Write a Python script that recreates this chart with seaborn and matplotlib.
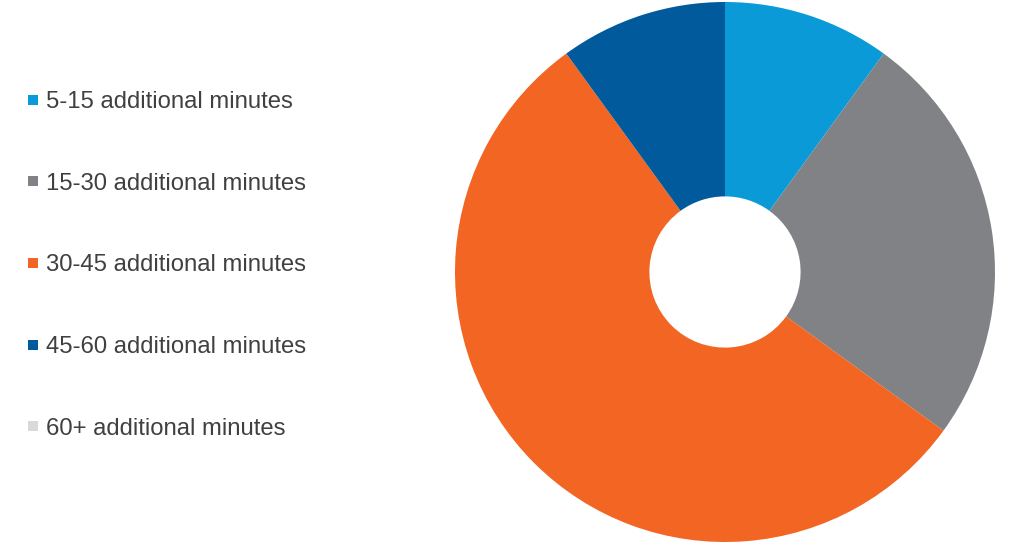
import matplotlib
matplotlib.use("Agg")
import matplotlib.pyplot as plt
from matplotlib.lines import Line2D
import seaborn as sns

categories = ["5-15 additional minutes", "15-30 additional minutes",
              "30-45 additional minutes", "45-60 additional minutes",
              "60+ additional minutes"]
shares = [10, 25, 55, 10, 0]
colors = ["#0b9ad8", "#808285", "#f26522", "#005a9c", "#d9d9d9"]

sns.set_theme(style="white")
plt.rcParams["font.family"] = ["Liberation Sans", "DejaVu Sans"]

fig = plt.figure(figsize=(10.24, 5.45), dpi=100)
ax = fig.add_axes([455 / 1024, 3 / 545, 540 / 1024, 540 / 545])

wedges, _ = ax.pie(shares, colors=colors, startangle=90, counterclock=False,
                   wedgeprops=dict(width=0.72, linewidth=0))
ax.set_xlim(-1, 1)
ax.set_ylim(-1, 1)
ax.set_aspect("equal")
ax.axis("off")

handles = [Line2D([0], [0], marker="s", linestyle="", markersize=7,
                  markerfacecolor=c, markeredgewidth=0) for c in colors]
fig.legend(handles, categories, loc="center left",
           bbox_to_anchor=(0.006, 0.513), frameon=False, fontsize=17.2,
           labelspacing=2.5, handlelength=0.45, handletextpad=0.3,
           labelcolor="#404040")

fig.savefig("out.png", dpi=100)
